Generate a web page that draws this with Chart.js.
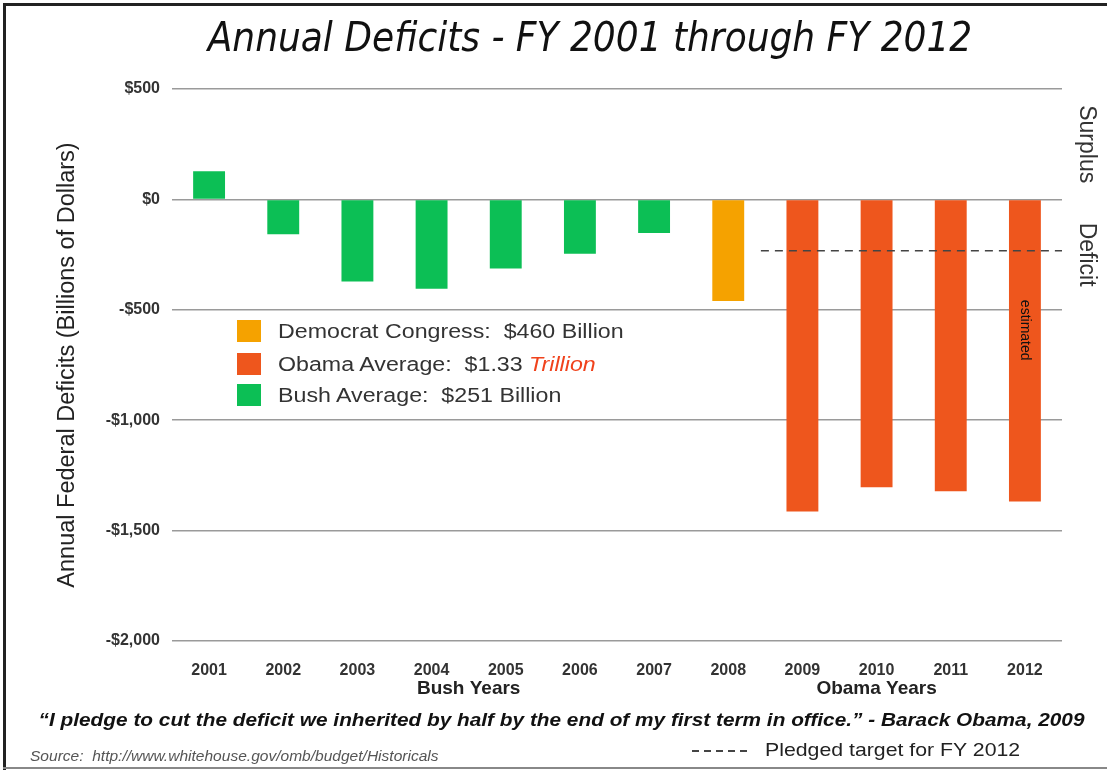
<!DOCTYPE html>
<html>
<head>
<meta charset="utf-8">
<title>Annual Deficits - FY 2001 through FY 2012</title>
<script src="https://cdn.jsdelivr.net/npm/chart.js@4.4.1/dist/chart.umd.min.js"></script>
<style>
  html, body { margin: 0; padding: 0; background: #fff; }
  #frame {
    position: relative; width: 1107px; height: 773px; overflow: hidden;
    font-family: "Liberation Sans", Arial, sans-serif; color: #333;
  }
  #chart { position: absolute; left: 0; top: 0; }
  .edge { position: absolute; background: #222; }
  #title {
    position: absolute; left: 100px; width: 980px; top: 14px; text-align: center;
    font-family: "DejaVu Sans Condensed", "DejaVu Sans", sans-serif; font-stretch: condensed;
    font-style: italic; font-size: 40px; color: #111;
  }
  .leg { position: absolute; left: 237px; height: 22px; font-size: 20px; white-space: pre; }
  .leg span.box { position: absolute; left: 0; top: 0; width: 24px; height: 22px; }
  .leg span.txt { position: absolute; left: 41px; top: 0; line-height: 22px; transform: scaleX(1.16); transform-origin: left center; }
  #quote {
    position: absolute; left: 8px; width: 1107px; top: 709px; text-align: center;
    font-size: 19px; font-weight: bold; font-style: italic; color: #111;
    transform: scaleX(1.095); transform-origin: 553px center;
  }
  #source { position: absolute; left: 30px; top: 748px; font-size: 14px; font-style: italic; color: #555; white-space: pre; transform: scaleX(1.11); transform-origin: left center; }
  #pledge { position: absolute; left: 692px; top: 739px; font-size: 19px; color: #222; }
  #pledge .dash { position: absolute; left: 0; top: 11px; width: 56px; height: 2px;
    background: repeating-linear-gradient(to right, #444 0 7px, transparent 7px 12px); }
  #pledge .txt { position: absolute; left: 73px; top: 0; white-space: nowrap; transform: scaleX(1.12); transform-origin: left center; }
</style>
</head>
<body>
<div id="frame">
  <canvas id="chart" width="1107" height="773"></canvas>
  <div class="edge" style="left:3px; top:3px; width:3px; height:767px;"></div>
  <div class="edge" style="left:3px; top:3px; width:1104px; height:3px;"></div>
  <div class="edge" style="left:3px; top:767px; width:1104px; height:2px; background:#888;"></div>
  <div id="title">Annual Deficits - FY 2001 through FY 2012</div>
  <div id="legend"></div>
  <div id="quote">“I pledge to cut the deficit we inherited by half by the end of my first term in office.” - Barack Obama, 2009</div>
  <div id="source">Source:  http://www.whitehouse.gov/omb/budget/Historicals</div>
  <div id="pledge"><div class="dash"></div><div class="txt">Pledged target for FY 2012</div></div>
</div>
<script>
// fiscal years and deficits (billions of dollars, negative = deficit)
const years = ["2001", "2002", "2003", "2004", "2005", "2006", "2007", "2008", "2009", "2010", "2011", "2012"];
const deficits = [128, -158, -372, -405, -313, -246, -152, -460, -1413, -1304, -1322, -1368];
const periods = ["Bush", "Bush", "Bush", "Bush", "Bush", "Bush", "Bush", "Congress", "Obama", "Obama", "Obama", "Obama"];

const periodColors = { Bush: "#0cbf55", Congress: "#f5a200", Obama: "#ee561d" };

// legend rows (label text, optional red italic word)
const legendRows = [
  { period: "Congress", text: "Democrat Congress:  $460 Billion" },
  { period: "Obama", text: "Obama Average:  $1.33 ", red: "Trillion" },
  { period: "Bush", text: "Bush Average:  $251 Billion" },
];
const legendTops = [320, 353, 384];

const pledgedTarget = -232; // half of inherited deficit target line
const yTicks = [500, 0, -500, -1000, -1500, -2000];

// legend
const legendDiv = document.getElementById("legend");
legendRows.forEach((row, i) => {
  const el = document.createElement("div");
  el.className = "leg";
  el.style.top = legendTops[i] + "px";
  el.innerHTML = `<span class="box" style="background:${periodColors[row.period]}"></span>
    <span class="txt">${row.text}${row.red ? `<i style="color:#f0421c">${row.red}</i>` : ""}</span>`;
  legendDiv.appendChild(el);
});

const fmtDollars = (v) => (v < 0 ? "-$" : "$") + Math.abs(v).toLocaleString("en-US");

// extra drawing: pledged line, era labels, side labels
const extras = {
  id: "extras",
  afterDatasetsDraw(chart) {
    const { ctx, chartArea, scales } = chart;
    const x = scales.x, y = scales.y;
    ctx.save();

    // dashed pledged target
    const py = y.getPixelForValue(pledgedTarget);
    ctx.strokeStyle = "#444";
    ctx.lineWidth = 1.5;
    ctx.setLineDash([8, 6]);
    ctx.beginPath();
    ctx.moveTo(x.getPixelForValue(7.44), py);
    ctx.lineTo(chartArea.right, py);
    ctx.stroke();
    ctx.setLineDash([]);

    // era labels under the years
    ctx.fillStyle = "#222";
    ctx.font = "bold 19px 'Liberation Sans', Arial, sans-serif";
    ctx.textAlign = "center";
    ctx.textBaseline = "middle";
    ctx.fillText("Bush Years", x.getPixelForValue(3.5), chartArea.bottom + 48);
    ctx.fillText("Obama Years", x.getPixelForValue(9), chartArea.bottom + 48);

    // estimated, inside 2012 bar
    ctx.save();
    ctx.translate(x.getPixelForValue(11), y.getPixelForValue(-455));
    ctx.rotate(Math.PI / 2);
    ctx.font = "14px 'Liberation Sans', Arial, sans-serif";
    ctx.fillStyle = "#111";
    ctx.textAlign = "left";
    ctx.fillText("estimated", 0, 0);
    ctx.restore();

    // Surplus / Deficit at right
    ctx.font = "23px 'Liberation Sans', Arial, sans-serif";
    ctx.fillStyle = "#333";
    [["Surplus", 250], ["Deficit", -250]].forEach(([label, v]) => {
      ctx.save();
      ctx.translate(chartArea.right + 24, y.getPixelForValue(v));
      ctx.rotate(Math.PI / 2);
      ctx.textAlign = "center";
      ctx.fillText(label, 0, 0);
      ctx.restore();
    });

    ctx.restore();
  },
};

new Chart(document.getElementById("chart").getContext("2d"), {
  type: "bar",
  data: {
    labels: years,
    datasets: [
      {
        data: deficits,
        backgroundColor: periods.map((p) => periodColors[p]),
        borderWidth: 0,
        barPercentage: 0.43,
        categoryPercentage: 1,
      },
    ],
  },
  options: {
    responsive: false,
    animation: false,
    layout: { padding: { top: 89, right: 45, bottom: 92, left: 0 } },
    plugins: {
      legend: { display: false },
      tooltip: { enabled: false },
    },
    scales: {
      x: {
        grid: { display: false },
        border: { display: false },
        ticks: {
          color: "#333",
          font: { family: "'Liberation Sans', Arial, sans-serif", size: 16, weight: "bold" },
          padding: 12,
        },
        afterFit: (s) => { s.height = 40; },
      },
      y: {
        min: -2000,
        max: 500,
        afterBuildTicks: (s) => { s.ticks = yTicks.map((v) => ({ value: v })); },
        ticks: {
          callback: (v) => fmtDollars(v),
          color: "#333",
          font: { family: "'Liberation Sans', Arial, sans-serif", size: 16, weight: "bold" },
          padding: 12,
        },
        grid: { color: "#9a9a9a", lineWidth: 1.5, drawTicks: false },
        border: { display: false },
        title: {
          display: true,
          text: "Annual Federal Deficits (Billions of Dollars)",
          color: "#222",
          font: { family: "'Liberation Sans', Arial, sans-serif", size: 23.5 },
          padding: { top: 53 },
        },
        afterFit: (s) => { s.width = 172; },
      },
    },
  },
  plugins: [extras],
});
</script>
</body>
</html>
